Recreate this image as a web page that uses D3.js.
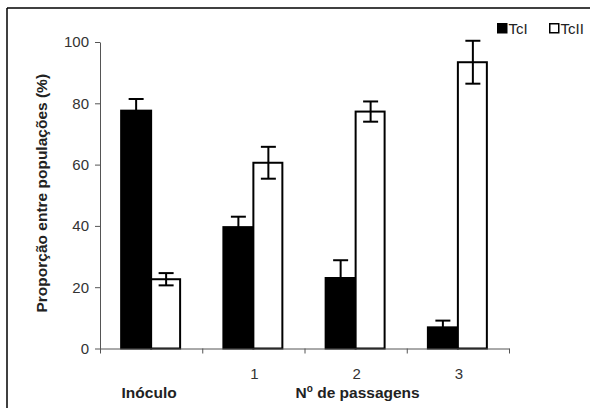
<!DOCTYPE html>
<html>
<head>
<meta charset="utf-8">
<script src="https://cdn.jsdelivr.net/npm/d3@7"></script>
<style>
body { margin: 0; background: #fff; }
svg { display: block; font-family: "Liberation Sans", Arial, sans-serif; }
</style>
</head>
<body>
<div id="chart"></div>
<script>
// data
var categories = ["Inóculo", "1", "2", "3"];
var tickLabels = ["", "1", "2", "3"];
var series = ["TcI", "TcII"];
var tcI = [77.6, 39.6, 23.0, 6.9];
var tcIErr = [3.8, 3.4, 5.8, 2.2];
var tcII = [22.6, 60.6, 77.3, 93.4];
var tcIIErr = [2.0, 5.2, 3.3, 7.0];
var yTicks = [0, 20, 40, 60, 80, 100];

var W = 590, H = 408;
var margin = {top: 42, right: 81, bottom: 59.5, left: 100};
var width = W - margin.left - margin.right;
var height = H - margin.top - margin.bottom;

var svg = d3.select("#chart").append("svg").attr("width", W).attr("height", H);

// frame (left and top edges only visible)
svg.append("line").attr("x1", 7).attr("y1", 8).attr("x2", 7).attr("y2", H).attr("stroke", "#000").attr("stroke-width", 1.5);
svg.append("line").attr("x1", 7).attr("y1", 8).attr("x2", W).attr("y2", 8).attr("stroke", "#000").attr("stroke-width", 1.5);

var g = svg.append("g").attr("transform", "translate(" + margin.left + "," + margin.top + ")");

var x = d3.scaleBand().domain(categories).range([0, width]).paddingInner(0).paddingOuter(0);
var x1 = d3.scaleBand().domain(series).range([0, x.bandwidth()]).paddingInner(0).paddingOuter(0.705);
var y = d3.scaleLinear().domain([0, 100]).range([height, 0]);
var xb = d3.scaleLinear().domain([0, categories.length]).range([0, width]);

var rows = categories.map(function(c, i) {
  return [
    {cat: c, key: "TcI", v: tcI[i], e: tcIErr[i]},
    {cat: c, key: "TcII", v: tcII[i], e: tcIIErr[i]}
  ];
});
var flat = [].concat.apply([], rows);

// bars
g.selectAll(".bar")
  .data(flat)
  .enter().append("rect")
  .attr("class", "bar")
  .attr("x", function(d) { return x(d.cat) + x1(d.key); })
  .attr("y", function(d) { return y(d.v); })
  .attr("width", function(d) { return d.key == "TcII" ? x1.bandwidth() - 1 : x1.bandwidth(); })
  .attr("height", function(d) { return y(0) - y(d.v); })
  .attr("fill", function(d) { return d.key == "TcI" ? "#000" : "#fff"; })
  .attr("stroke", "#000")
  .attr("stroke-width", 2);

// error bars
var eb = g.selectAll(".err")
  .data(flat)
  .enter().append("g")
  .attr("class", "err")
  .attr("stroke", "#000")
  .attr("stroke-width", 2);
function cx(d) { return x(d.cat) + x1(d.key) + x1.bandwidth() / 2; }
eb.append("line")
  .attr("x1", cx).attr("x2", cx)
  .attr("y1", function(d) { return y(d.v + d.e); })
  .attr("y2", function(d) { return y(d.v - d.e); });
eb.append("line")
  .attr("x1", function(d) { return cx(d) - 7.5; }).attr("x2", function(d) { return cx(d) + 7.5; })
  .attr("y1", function(d) { return y(d.v + d.e); })
  .attr("y2", function(d) { return y(d.v + d.e); });
eb.append("line")
  .attr("x1", function(d) { return cx(d) - 7.5; }).attr("x2", function(d) { return cx(d) + 7.5; })
  .attr("y1", function(d) { return y(d.v - d.e); })
  .attr("y2", function(d) { return y(d.v - d.e); });

// y axis
var ya = g.append("g")
  .attr("class", "axis axis--y")
  .call(d3.axisLeft(y).tickValues(yTicks).tickSize(5).tickPadding(6).tickSizeOuter(0));
ya.select(".domain").attr("stroke", "#555");
ya.selectAll(".tick line").attr("stroke", "#555");
ya.selectAll("text").style("font-size", "15px").style("font-family", "'Liberation Sans', Arial, sans-serif").attr("fill", "#333");

// x axis, ticks at category boundaries
var xa = g.append("g")
  .attr("class", "axis axis--x")
  .attr("transform", "translate(0," + height + ")")
  .call(d3.axisBottom(xb).ticks(categories.length).tickSize(5).tickFormat("").tickSizeOuter(0));
xa.select(".domain").attr("stroke", "#555");
xa.selectAll(".tick line").attr("stroke", "#555");

g.selectAll(".catlabel")
  .data(categories)
  .enter().append("text")
  .attr("class", "catlabel")
  .attr("x", function(d) { return x(d) + x.bandwidth() / 2 + 1; })
  .attr("y", height + 30)
  .attr("text-anchor", "middle")
  .style("font-size", "15px")
  .attr("fill", "#333")
  .text(function(d, i) { return tickLabels[i]; });

g.append("text")
  .attr("x", x(categories[0]) + x.bandwidth() / 2 - 2)
  .attr("y", height + 49)
  .attr("text-anchor", "middle")
  .style("font-size", "15.5px")
  .style("font-weight", "bold")
  .attr("fill", "#222")
  .text(categories[0]);

var xt = g.append("text")
  .attr("x", (x(categories[1]) + width) / 2 + 2)
  .attr("y", height + 49)
  .attr("text-anchor", "middle")
  .style("font-size", "15.5px")
  .style("font-weight", "bold")
  .attr("fill", "#222");
xt.append("tspan").text("N");
xt.append("tspan").attr("dy", "-6").style("font-size", "10px").text("o");
xt.append("tspan").attr("dy", "6").text(" de passagens");

// y title
g.append("text")
  .attr("transform", "rotate(-90)")
  .attr("x", -(height / 2) + 2)
  .attr("y", -53)
  .attr("text-anchor", "middle")
  .style("font-size", "15.5px")
  .style("font-weight", "bold")
  .attr("fill", "#222")
  .text("Proporção entre populações (%)");

// legend
var legend = svg.selectAll(".legend")
  .data(series)
  .enter().append("g")
  .attr("class", "legend")
  .attr("transform", function(d, i) { return "translate(" + (497 + i * 52) + ",23)"; });
legend.append("rect")
  .attr("x", 0.75).attr("y", 0.75)
  .attr("width", 9).attr("height", 9)
  .attr("fill", function(d, i) { return i == 0 ? "#000" : "#fff"; })
  .attr("stroke", "#000")
  .attr("stroke-width", 1.5);
legend.append("text")
  .attr("x", 11.5)
  .attr("y", 11)
  .style("font-size", "15px")
  .attr("fill", "#222")
  .text(function(d) { return d; });
</script>
</body>
</html>
